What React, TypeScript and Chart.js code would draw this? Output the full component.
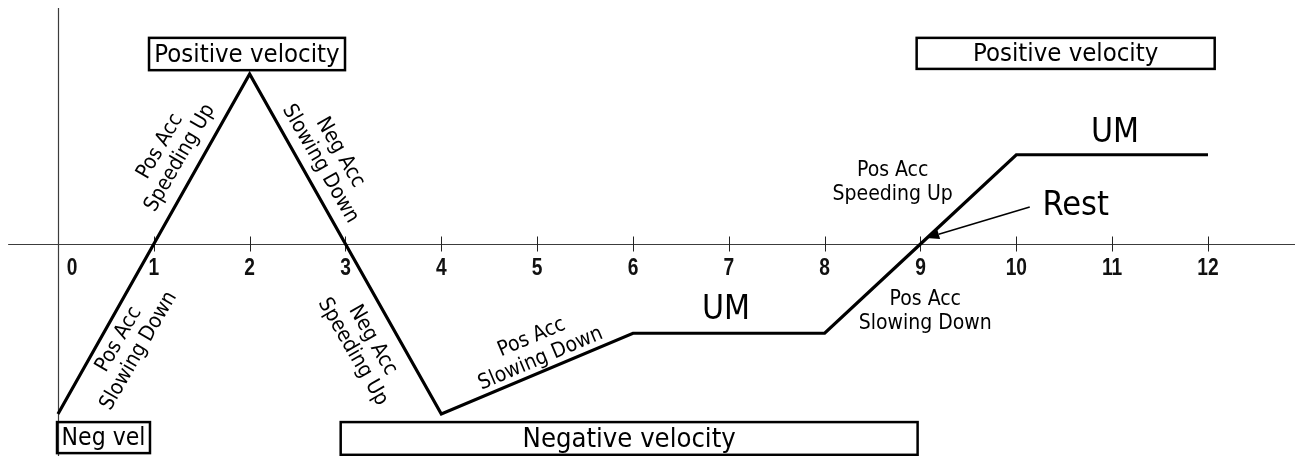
import React, { useEffect, useRef } from 'react';
import { Chart, registerables } from 'chart.js';

Chart.register(...registerables);

// ---- data ----
const timePoints = [0, 1, 2, 3, 4, 6, 8, 9, 10, 12];
const velocityValues = [-4, 0, 4, 0, -4, -2.1, -2.1, 0, 2.1, 2.1];
const tickValues = [0, 1, 2, 3, 4, 5, 6, 7, 8, 9, 10, 11, 12];
const tickLabels = ['0', '1', '2', '3', '4', '5', '6', '7', '8', '9', '10', '11', '12'];

// ---- layout / annotation config ----
const X_MIN = -0.605;
const X_MAX = 12.908;
const Y_MIN = -4.988;
const Y_MAX = 5.741;
const AXIS_X_START = -0.52;
const AXIS_Y_TOP = 5.553;

const COND = '"DejaVu Sans Condensed", "DejaVu Sans", sans-serif';
const TICK_FONT = 'bold 24px "Liberation Sans", Arial, sans-serif';
const TICK_SCALE_X = 0.8;

type Box = { text: string; x0: number; x1: number; y0: number; y1: number; size: number };
const boxes: Box[] = [
  { text: 'Positive velocity', x0: 0.95, x1: 2.995, y0: 4.85, y1: 4.09, size: 25.5 },
  { text: 'Positive velocity', x0: 8.96, x1: 12.07, y0: 4.85, y1: 4.12, size: 25.5 },
  { text: 'Neg vel', x0: -0.01, x1: 0.96, y0: -4.19, y1: -4.92, size: 24.5 },
  { text: 'Negative velocity', x0: 2.95, x1: 8.97, y0: -4.19, y1: -4.96, size: 27.2 },
];

type Label = { lines: string[]; x: number; y: number; size: number; rot: number; lh: number };
const labels: Label[] = [
  { lines: ['Pos Acc', 'Speeding Up'], x: 1.17, y: 2.16, size: 21, rot: -60, lh: 23 },
  { lines: ['Neg Acc', 'Slowing Down'], x: 2.84, y: 2.02, size: 21, rot: 60, lh: 23 },
  { lines: ['Pos Acc', 'Slowing Down'], x: 0.74, y: -2.38, size: 21, rot: -60, lh: 23 },
  { lines: ['Neg Acc', 'Speeding Up'], x: 3.18, y: -2.4, size: 21, rot: 60, lh: 23 },
  { lines: ['Pos Acc', 'Slowing Down'], x: 4.99, y: -2.45, size: 21, rot: -23, lh: 23 },
  { lines: ['UM'], x: 6.97, y: -1.55, size: 33.5, rot: 0, lh: 33 },
  { lines: ['UM'], x: 11.03, y: 2.61, size: 33.5, rot: 0, lh: 33 },
  { lines: ['Pos Acc', 'Speeding Up'], x: 8.71, y: 1.44, size: 21, rot: 0, lh: 24 },
  { lines: ['Pos Acc', 'Slowing Down'], x: 9.05, y: -1.58, size: 21, rot: 0, lh: 24 },
  { lines: ['Rest'], x: 10.62, y: 0.89, size: 34, rot: 0, lh: 34 },
];

const arrow = { fromX: 10.14, fromY: 0.87, toX: 9.06, toY: 0.14 };

const axesPlugin = {
  id: 'vtAxes',
  beforeDatasetsDraw(chart: any) {
    const { ctx, scales } = chart;
    const xs = scales.x;
    const ys = scales.y;
    const x0 = Math.round(xs.getPixelForValue(0)) + 0.5;
    const y0 = Math.round(ys.getPixelForValue(0)) + 0.5;
    ctx.save();
    ctx.strokeStyle = '#3c3c3c';
    ctx.lineWidth = 1.2;
    ctx.beginPath();
    ctx.moveTo(xs.getPixelForValue(AXIS_X_START), y0);
    ctx.lineTo(chart.width, y0);
    ctx.moveTo(x0, ys.getPixelForValue(AXIS_Y_TOP));
    ctx.lineTo(x0, chart.height);
    ctx.stroke();

    ctx.strokeStyle = '#222';
    ctx.lineWidth = 1;
    ctx.beginPath();
    tickValues.forEach((v) => {
      if (v === 0) return;
      const px = Math.round(xs.getPixelForValue(v)) + 0.5;
      ctx.moveTo(px, y0 - 8);
      ctx.lineTo(px, y0 + 7);
    });
    ctx.stroke();

    ctx.fillStyle = '#111';
    ctx.font = TICK_FONT;
    ctx.textAlign = 'center';
    ctx.textBaseline = 'middle';
    tickValues.forEach((v, i) => {
      const px = xs.getPixelForValue(v) + (v === 0 ? 14 : 0);
      ctx.save();
      ctx.translate(px, y0 + 24);
      ctx.scale(TICK_SCALE_X, 1);
      ctx.fillText(tickLabels[i], 0, 0);
      ctx.restore();
    });
    ctx.restore();
  },
};

const annotationPlugin = {
  id: 'vtAnnotations',
  afterDatasetsDraw(chart: any) {
    const { ctx, scales } = chart;
    const xs = scales.x;
    const ys = scales.y;
    ctx.save();
    ctx.fillStyle = '#000';
    ctx.strokeStyle = '#000';
    ctx.textAlign = 'center';
    ctx.textBaseline = 'middle';

    boxes.forEach((b) => {
      const l = xs.getPixelForValue(b.x0);
      const r = xs.getPixelForValue(b.x1);
      const t = ys.getPixelForValue(b.y0);
      const bt = ys.getPixelForValue(b.y1);
      ctx.lineWidth = 2.5;
      ctx.strokeRect(l, t, r - l, bt - t);
      ctx.font = `${b.size}px ${COND}`;
      ctx.fillText(b.text, (l + r) / 2, (t + bt) / 2 + 1);
    });

    labels.forEach((lb) => {
      const cx = xs.getPixelForValue(lb.x);
      const cy = ys.getPixelForValue(lb.y);
      ctx.save();
      ctx.translate(cx, cy);
      ctx.rotate((lb.rot * Math.PI) / 180);
      ctx.font = `${lb.size}px ${COND}`;
      const n = lb.lines.length;
      lb.lines.forEach((s, i) => {
        ctx.fillText(s, 0, (i - (n - 1) / 2) * lb.lh);
      });
      ctx.restore();
    });

    // arrow to "Rest"
    const fx = xs.getPixelForValue(arrow.fromX);
    const fy = ys.getPixelForValue(arrow.fromY);
    const tx = xs.getPixelForValue(arrow.toX);
    const ty = ys.getPixelForValue(arrow.toY);
    const ang = Math.atan2(ty - fy, tx - fx);
    const head = 13;
    const hw = 5;
    const bx = tx - head * Math.cos(ang);
    const by = ty - head * Math.sin(ang);
    ctx.lineWidth = 1.5;
    ctx.beginPath();
    ctx.moveTo(fx, fy);
    ctx.lineTo(bx, by);
    ctx.stroke();
    ctx.beginPath();
    ctx.moveTo(tx, ty);
    ctx.lineTo(bx + hw * Math.sin(ang), by - hw * Math.cos(ang));
    ctx.lineTo(bx - hw * Math.sin(ang), by + hw * Math.cos(ang));
    ctx.closePath();
    ctx.fill();
    ctx.restore();
  },
};

export default function App() {
  const canvasRef = useRef<HTMLCanvasElement | null>(null);

  useEffect(() => {
    const canvas = canvasRef.current;
    if (!canvas) return;
    const chart = new Chart(canvas, {
      type: 'line',
      data: {
        datasets: [
          {
            data: timePoints.map((t, i) => ({ x: t, y: velocityValues[i] })),
            borderColor: '#000',
            borderWidth: 3.2,
            pointRadius: 0,
            tension: 0,
            fill: false,
            borderJoinStyle: 'miter',
            borderCapStyle: 'butt',
          } as any,
        ],
      },
      options: {
        animation: false,
        responsive: false,
        events: [],
        layout: { padding: 0 },
        plugins: { legend: { display: false }, tooltip: { enabled: false } },
        scales: {
          x: { type: 'linear', min: X_MIN, max: X_MAX, display: false },
          y: { type: 'linear', min: Y_MIN, max: Y_MAX, display: false },
        },
      },
      plugins: [axesPlugin, annotationPlugin],
    });
    return () => chart.destroy();
  }, []);

  return (
    <div style={{ position: 'fixed', left: 0, top: 0, width: 1295, height: 456, background: '#fff' }}>
      <canvas ref={canvasRef} width={1295} height={456} style={{ display: 'block' }} />
    </div>
  );
}
